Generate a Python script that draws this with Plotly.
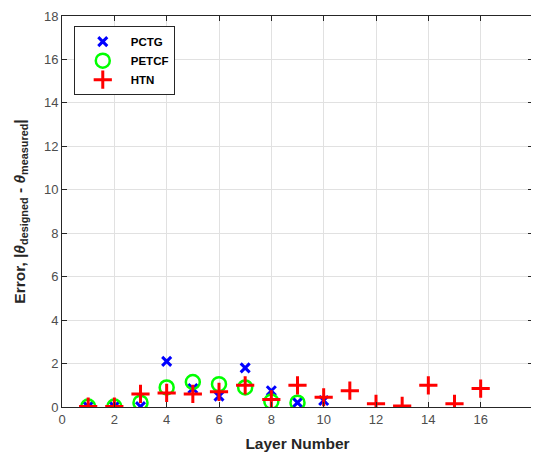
import plotly.graph_objects as go

pctg_x = [1, 2, 3, 4, 5, 6, 7, 8, 9, 10]
pctg_y = [0.02, 0.02, 0.02, 2.1, 0.85, 0.5, 1.8, 0.75, 0.2, 0.3]

petcf_x = [1, 2, 3, 4, 5, 6, 7, 8, 9]
petcf_y = [0.02, 0.02, 0.2, 0.9, 1.15, 1.05, 0.9, 0.25, 0.2]

htn_x = [1, 2, 3, 4, 5, 6, 7, 8, 9, 10, 11, 12, 13, 14, 15, 16]
htn_y = [0.02, 0.02, 0.6, 0.65, 0.6, 0.7, 1.0, 0.35, 1.0, 0.45, 0.75, 0.15, 0.05, 1.0, 0.15, 0.85]

ticks = list(range(0, 19, 2))

FONT = "Liberation Sans, Arial"

fig = go.Figure()
fig.add_trace(go.Scatter(x=pctg_x, y=pctg_y, mode="markers", name="<b>PCTG</b>",
                         marker=dict(symbol="x-thin", size=9, color="blue",
                                     line=dict(color="blue", width=3))))
fig.add_trace(go.Scatter(x=petcf_x, y=petcf_y, mode="markers", name="<b>PETCF</b>",
                         marker=dict(symbol="circle-open", size=14, color="#00ff00",
                                     line=dict(color="#00ff00", width=2.5))))
fig.add_trace(go.Scatter(x=htn_x, y=htn_y, mode="markers", name="<b>HTN</b>",
                         marker=dict(symbol="cross-thin", size=13, color="red",
                                     line=dict(color="red", width=3))))

axis_common = dict(
    range=[0, 18], tickvals=ticks, ticktext=[str(t) for t in ticks],
    showgrid=True, gridcolor="#e1e1e1", gridwidth=1,
    showline=True, linecolor="#262626", linewidth=1, mirror="ticks",
    ticks="inside", ticklen=5, tickcolor="#262626",
    tickfont=dict(family=FONT, size=13, color="#4d4d4d"),
    zeroline=False, automargin=False,
)

# page body has an 8px default margin; sizes below compensate for it
fig.update_layout(
    width=531, height=450,
    margin=dict(l=54, r=6, t=8, b=51),
    paper_bgcolor="white", plot_bgcolor="white",
    showlegend=True,
    legend=dict(x=0.025, y=0.974, xanchor="left", yanchor="top",
                bordercolor="#262626", borderwidth=1, bgcolor="white",
                font=dict(family=FONT, size=11.5, color="black"),
                itemwidth=46, tracegroupgap=0),
    xaxis=dict(axis_common, title=dict(text="<b>Layer Number</b>", standoff=12,
               font=dict(family=FONT, size=15.5, color="#262626"))),
    yaxis=dict(axis_common, title=dict(
        text="<b>Error, |<i>θ</i><sub>designed</sub> - <i>θ</i><sub>measured</sub>|</b>",
        standoff=14, font=dict(family=FONT, size=15.5, color="#262626"))),
)

fig.write_html("out.html")
